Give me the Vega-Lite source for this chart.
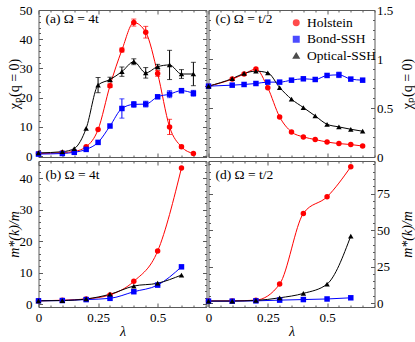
{
  "$schema": "https://vega.github.io/schema/vega-lite/v6.json",
  "padding": {"left": 6.5, "top": 3, "right": 0, "bottom": 4},
  "bounds": "flush",
  "columns": 2,
  "spacing": {"row": 4, "column": 2},
  "config": {
    "font": "Liberation Serif",
    "view": {"stroke": "#5a5a5a", "strokeWidth": 1},
    "axis": {"grid": false, "domain": false, "tickSize": -4, "tickColor": "#5a5a5a", "labelFontSize": 13, "labelColor": "#000", "titleFontSize": 14, "titleFontWeight": "normal", "titleColor": "#000", "labelFlush": false, "labelOverlap": false, "labelPadding": 10.5, "titlePadding": -2},
    "legend": {"labelFontSize": 13.5, "labelColor": "#000", "symbolSize": 30, "rowPadding": 1.5, "padding": 0}
  },
  "data": {"values": [
    {"p":"a","m":"Holstein","x":0,"y":0.9},
    {"p":"a","m":"Holstein","x":0.1,"y":1.2},
    {"p":"a","m":"Holstein","x":0.15,"y":1.6},
    {"p":"a","m":"Holstein","x":0.2,"y":3.2},
    {"p":"a","m":"Holstein","x":0.25,"y":9.1},
    {"p":"a","m":"Holstein","x":0.3,"y":24.1,"lo":23.5,"hi":24.7},
    {"p":"a","m":"Holstein","x":0.35,"y":36.3,"lo":35.6,"hi":37.0},
    {"p":"a","m":"Holstein","x":0.4,"y":45.7,"lo":44.5,"hi":46.9},
    {"p":"a","m":"Holstein","x":0.45,"y":42.4,"lo":40.4,"hi":44.4},
    {"p":"a","m":"Holstein","x":0.5,"y":28.3,"lo":27.3,"hi":29.3},
    {"p":"a","m":"Holstein","x":0.55,"y":10.0,"lo":7.4,"hi":12.6},
    {"p":"a","m":"Holstein","x":0.6,"y":3.2,"lo":2.7,"hi":3.7},
    {"p":"a","m":"Holstein","x":0.65,"y":0.9},
    {"p":"a","m":"Bond-SSH","x":0,"y":0.7},
    {"p":"a","m":"Bond-SSH","x":0.1,"y":0.9},
    {"p":"a","m":"Bond-SSH","x":0.15,"y":1.3},
    {"p":"a","m":"Bond-SSH","x":0.2,"y":2.3},
    {"p":"a","m":"Bond-SSH","x":0.25,"y":4.7},
    {"p":"a","m":"Bond-SSH","x":0.3,"y":10.3},
    {"p":"a","m":"Bond-SSH","x":0.35,"y":16.3,"lo":13.0,"hi":19.6},
    {"p":"a","m":"Bond-SSH","x":0.4,"y":17.7,"lo":16.7,"hi":18.7},
    {"p":"a","m":"Bond-SSH","x":0.45,"y":17.8,"lo":16.8,"hi":18.8},
    {"p":"a","m":"Bond-SSH","x":0.5,"y":20.3,"lo":19.8,"hi":20.8},
    {"p":"a","m":"Bond-SSH","x":0.55,"y":21.2,"lo":20.0,"hi":22.4},
    {"p":"a","m":"Bond-SSH","x":0.6,"y":22.4,"lo":21.7,"hi":23.1},
    {"p":"a","m":"Bond-SSH","x":0.65,"y":21.5,"lo":20.5,"hi":22.5},
    {"p":"a","m":"Optical-SSH","x":0,"y":1.1},
    {"p":"a","m":"Optical-SSH","x":0.1,"y":1.5},
    {"p":"a","m":"Optical-SSH","x":0.15,"y":2.6},
    {"p":"a","m":"Optical-SSH","x":0.2,"y":9.5},
    {"p":"a","m":"Optical-SSH","x":0.25,"y":24.3,"lo":21.7,"hi":26.9},
    {"p":"a","m":"Optical-SSH","x":0.3,"y":26.2,"lo":25.4,"hi":27.0},
    {"p":"a","m":"Optical-SSH","x":0.35,"y":28.9,"lo":27.3,"hi":30.5},
    {"p":"a","m":"Optical-SSH","x":0.4,"y":32.3,"lo":31.3,"hi":33.3},
    {"p":"a","m":"Optical-SSH","x":0.45,"y":28.5,"lo":26.7,"hi":30.3},
    {"p":"a","m":"Optical-SSH","x":0.5,"y":30.6,"lo":29.8,"hi":31.4},
    {"p":"a","m":"Optical-SSH","x":0.55,"y":31.2,"lo":26.2,"hi":36.2},
    {"p":"a","m":"Optical-SSH","x":0.6,"y":28.1,"lo":26.6,"hi":29.6},
    {"p":"a","m":"Optical-SSH","x":0.65,"y":28.1,"lo":24.1,"hi":32.1},
    {"p":"b","m":"Holstein","x":0,"y":1.0},
    {"p":"b","m":"Holstein","x":0.1,"y":1.2},
    {"p":"b","m":"Holstein","x":0.2,"y":1.6},
    {"p":"b","m":"Holstein","x":0.3,"y":2.9},
    {"p":"b","m":"Holstein","x":0.4,"y":7.2},
    {"p":"b","m":"Holstein","x":0.5,"y":16.8},
    {"p":"b","m":"Holstein","x":0.6,"y":43.2},
    {"p":"b","m":"Bond-SSH","x":0,"y":1.0},
    {"p":"b","m":"Bond-SSH","x":0.1,"y":1.1},
    {"p":"b","m":"Bond-SSH","x":0.2,"y":1.4},
    {"p":"b","m":"Bond-SSH","x":0.3,"y":1.8},
    {"p":"b","m":"Bond-SSH","x":0.4,"y":3.9},
    {"p":"b","m":"Bond-SSH","x":0.5,"y":6.0},
    {"p":"b","m":"Bond-SSH","x":0.6,"y":11.8},
    {"p":"b","m":"Optical-SSH","x":0,"y":1.0},
    {"p":"b","m":"Optical-SSH","x":0.1,"y":1.1},
    {"p":"b","m":"Optical-SSH","x":0.2,"y":1.6},
    {"p":"b","m":"Optical-SSH","x":0.3,"y":3.1},
    {"p":"b","m":"Optical-SSH","x":0.4,"y":5.7},
    {"p":"b","m":"Optical-SSH","x":0.5,"y":6.6},
    {"p":"b","m":"Optical-SSH","x":0.6,"y":9.2},
    {"p":"c","m":"Holstein","x":0,"y":0.723},
    {"p":"c","m":"Holstein","x":0.1,"y":0.795},
    {"p":"c","m":"Holstein","x":0.15,"y":0.846},
    {"p":"c","m":"Holstein","x":0.2,"y":0.897},
    {"p":"c","m":"Holstein","x":0.25,"y":0.706},
    {"p":"c","m":"Holstein","x":0.3,"y":0.409},
    {"p":"c","m":"Holstein","x":0.35,"y":0.256},
    {"p":"c","m":"Holstein","x":0.4,"y":0.205},
    {"p":"c","m":"Holstein","x":0.45,"y":0.178},
    {"p":"c","m":"Holstein","x":0.5,"y":0.153},
    {"p":"c","m":"Holstein","x":0.55,"y":0.137},
    {"p":"c","m":"Holstein","x":0.6,"y":0.127},
    {"p":"c","m":"Holstein","x":0.65,"y":0.112},
    {"p":"c","m":"Bond-SSH","x":0,"y":0.723},
    {"p":"c","m":"Bond-SSH","x":0.1,"y":0.733},
    {"p":"c","m":"Bond-SSH","x":0.15,"y":0.74},
    {"p":"c","m":"Bond-SSH","x":0.2,"y":0.75},
    {"p":"c","m":"Bond-SSH","x":0.25,"y":0.764},
    {"p":"c","m":"Bond-SSH","x":0.3,"y":0.764},
    {"p":"c","m":"Bond-SSH","x":0.35,"y":0.784},
    {"p":"c","m":"Bond-SSH","x":0.4,"y":0.798},
    {"p":"c","m":"Bond-SSH","x":0.45,"y":0.791},
    {"p":"c","m":"Bond-SSH","x":0.5,"y":0.832},
    {"p":"c","m":"Bond-SSH","x":0.55,"y":0.838,"lo":0.81,"hi":0.866},
    {"p":"c","m":"Bond-SSH","x":0.6,"y":0.795},
    {"p":"c","m":"Bond-SSH","x":0.65,"y":0.784},
    {"p":"c","m":"Optical-SSH","x":0,"y":0.723},
    {"p":"c","m":"Optical-SSH","x":0.1,"y":0.80},
    {"p":"c","m":"Optical-SSH","x":0.15,"y":0.853},
    {"p":"c","m":"Optical-SSH","x":0.2,"y":0.876},
    {"p":"c","m":"Optical-SSH","x":0.25,"y":0.859},
    {"p":"c","m":"Optical-SSH","x":0.3,"y":0.709},
    {"p":"c","m":"Optical-SSH","x":0.35,"y":0.59},
    {"p":"c","m":"Optical-SSH","x":0.4,"y":0.505},
    {"p":"c","m":"Optical-SSH","x":0.45,"y":0.419},
    {"p":"c","m":"Optical-SSH","x":0.5,"y":0.334},
    {"p":"c","m":"Optical-SSH","x":0.55,"y":0.307},
    {"p":"c","m":"Optical-SSH","x":0.6,"y":0.283},
    {"p":"c","m":"Optical-SSH","x":0.65,"y":0.263},
    {"p":"d","m":"Holstein","x":0,"y":1.4},
    {"p":"d","m":"Holstein","x":0.1,"y":1.5},
    {"p":"d","m":"Holstein","x":0.2,"y":2.0},
    {"p":"d","m":"Holstein","x":0.3,"y":13.0},
    {"p":"d","m":"Holstein","x":0.4,"y":61.4},
    {"p":"d","m":"Holstein","x":0.5,"y":72.8},
    {"p":"d","m":"Holstein","x":0.6,"y":93.3},
    {"p":"d","m":"Bond-SSH","x":0,"y":1.3},
    {"p":"d","m":"Bond-SSH","x":0.1,"y":1.3},
    {"p":"d","m":"Bond-SSH","x":0.2,"y":1.5},
    {"p":"d","m":"Bond-SSH","x":0.3,"y":2.0},
    {"p":"d","m":"Bond-SSH","x":0.4,"y":2.4},
    {"p":"d","m":"Bond-SSH","x":0.5,"y":2.8},
    {"p":"d","m":"Bond-SSH","x":0.6,"y":3.6},
    {"p":"d","m":"Optical-SSH","x":0,"y":1.4},
    {"p":"d","m":"Optical-SSH","x":0.1,"y":1.4},
    {"p":"d","m":"Optical-SSH","x":0.2,"y":1.8},
    {"p":"d","m":"Optical-SSH","x":0.3,"y":3.6},
    {"p":"d","m":"Optical-SSH","x":0.4,"y":6.6},
    {"p":"d","m":"Optical-SSH","x":0.5,"y":13.0},
    {"p":"d","m":"Optical-SSH","x":0.6,"y":45.9}
  ]},
  "resolve": {"legend": {"color": "independent", "shape": "independent"}},
  "concat": [
    {
      "width": 168, "height": 147,
      "title": {"text": "(a) Ω = 4t", "anchor": "start", "frame": "group", "offset": -21, "dx": 7, "fontSize": 13.5, "fontWeight": "normal", "color": "#000"},
      "transform": [{"filter": "datum.p == 'a'"}],
      "resolve": {"axis": {"x": "independent", "y": "independent"}},
      "encoding": {
        "color": {"field": "m", "type": "nominal", "scale": {"domain": ["Holstein", "Bond-SSH", "Optical-SSH"], "range": ["#ff0000", "#0000ff", "#000000"]}, "legend": null}
      },
      "layer": [
        {"mark": {"type": "line", "interpolate": "monotone", "strokeWidth": 1, "clip": true},
         "encoding": {
           "x": {"field": "x", "type": "quantitative", "scale": {"domain": [0, 0.705], "nice": false, "zero": false}, "axis": {"values": [0, 0.25, 0.5], "labels": false, "title": null}},
           "y": {"field": "y", "type": "quantitative", "scale": {"domain": [-0.3, 50], "nice": false, "zero": false}, "axis": {"values": [0, 10, 20, 30, 40, 50], "format": "d", "title": "χₚ(q = 0)"}}}},
        {"transform": [{"filter": "isValid(datum.lo)"}], "mark": {"type": "errorbar", "ticks": true, "thickness": 1},
         "encoding": {
           "x": {"field": "x", "type": "quantitative", "scale": {"domain": [0, 0.705], "nice": false, "zero": false}, "axis": null},
           "y": {"field": "lo", "type": "quantitative", "scale": {"domain": [-0.3, 50], "nice": false, "zero": false}, "axis": null},
           "y2": {"field": "hi"}}},
        {"mark": {"type": "point", "filled": true, "size": 30, "opacity": 1},
         "encoding": {
           "x": {"field": "x", "type": "quantitative", "scale": {"domain": [0, 0.705], "nice": false, "zero": false}, "axis": {"orient": "top", "values": [0, 0.05, 0.1, 0.15, 0.2, 0.25, 0.3, 0.35, 0.4, 0.45, 0.5, 0.55, 0.6, 0.65, 0.7], "tickSize": {"condition": {"test": "abs(datum.value*4 - round(datum.value*4)) < 0.001", "value": -4}, "value": -2}, "labels": false, "title": null}},
           "y": {"field": "y", "type": "quantitative", "scale": {"domain": [-0.3, 50], "nice": false, "zero": false}, "axis": {"orient": "right", "values": [0, 2, 4, 6, 8, 10, 12, 14, 16, 18, 20, 22, 24, 26, 28, 30, 32, 34, 36, 38, 40, 42, 44, 46, 48, 50], "tickSize": {"condition": {"test": "datum.value % 10 == 0", "value": -4}, "value": -2}, "labels": false, "title": null}},
           "shape": {"field": "m", "type": "nominal", "scale": {"domain": ["Holstein", "Bond-SSH", "Optical-SSH"], "range": ["circle", "square", "triangle-up"]}, "legend": null}}},
        {"mark": {"type": "point", "opacity": 0},
         "encoding": {
           "x": {"field": "x", "type": "quantitative", "scale": {"domain": [0, 0.705], "nice": false, "zero": false}, "axis": {"orient": "bottom", "values": [0.05, 0.1, 0.15, 0.2, 0.3, 0.35, 0.4, 0.45, 0.55, 0.6, 0.65, 0.7], "tickSize": -2, "labels": false, "title": null}},
           "y": {"field": "y", "type": "quantitative", "scale": {"domain": [-0.3, 50], "nice": false, "zero": false}, "axis": {"orient": "left", "values": [2, 4, 6, 8, 12, 14, 16, 18, 22, 24, 26, 28, 32, 34, 36, 38, 42, 44, 46, 48], "tickSize": -2, "labels": false, "title": null}}}}
      ]
    },
    {
      "width": 166, "height": 147,
      "title": {"text": "(c) Ω = t/2", "anchor": "start", "frame": "group", "offset": -21, "dx": 7, "fontSize": 13.5, "fontWeight": "normal", "color": "#000"},
      "transform": [{"filter": "datum.p == 'c'"}],
      "resolve": {"axis": {"x": "independent", "y": "independent"}},
      "encoding": {
        "color": {"field": "m", "type": "nominal", "title": null, "scale": {"domain": ["Holstein", "Bond-SSH", "Optical-SSH"], "range": ["#ff0000", "#0000ff", "#000000"]}, "legend": {"orient": "none", "legendX": 81, "legendY": 6, "title": null}}
      },
      "layer": [
        {"mark": {"type": "line", "interpolate": "monotone", "strokeWidth": 1, "clip": true},
         "encoding": {
           "x": {"field": "x", "type": "quantitative", "scale": {"domain": [0, 0.7], "nice": false, "zero": false}, "axis": {"values": [0, 0.25, 0.5], "labels": false, "title": null}},
           "y": {"field": "y", "type": "quantitative", "scale": {"domain": [0, 1.5], "nice": false, "zero": false}, "axis": {"orient": "right", "values": [0, 0.5, 1, 1.5], "format": ".1~f", "title": "χₚ(q = 0)", "titleAngle": -90, "titleBaseline": "top", "labelPadding": 6, "titlePadding": 8}}}},
        {"transform": [{"filter": "isValid(datum.lo)"}], "mark": {"type": "errorbar", "ticks": true, "thickness": 1},
         "encoding": {
           "x": {"field": "x", "type": "quantitative", "scale": {"domain": [0, 0.7], "nice": false, "zero": false}, "axis": null},
           "y": {"field": "lo", "type": "quantitative", "scale": {"domain": [0, 1.5], "nice": false, "zero": false}, "axis": null},
           "y2": {"field": "hi"}}},
        {"mark": {"type": "point", "filled": true, "size": 30, "opacity": 1},
         "encoding": {
           "x": {"field": "x", "type": "quantitative", "scale": {"domain": [0, 0.7], "nice": false, "zero": false}, "axis": {"orient": "top", "values": [0, 0.05, 0.1, 0.15, 0.2, 0.25, 0.3, 0.35, 0.4, 0.45, 0.5, 0.55, 0.6, 0.65, 0.7], "tickSize": {"condition": {"test": "abs(datum.value*4 - round(datum.value*4)) < 0.001", "value": -4}, "value": -2}, "labels": false, "title": null}},
           "y": {"field": "y", "type": "quantitative", "scale": {"domain": [0, 1.5], "nice": false, "zero": false}, "axis": {"orient": "left", "values": [0, 0.1, 0.2, 0.3, 0.4, 0.5, 0.6, 0.7, 0.8, 0.9, 1, 1.1, 1.2, 1.3, 1.4, 1.5], "tickSize": {"condition": {"test": "abs(datum.value*2 - round(datum.value*2)) < 0.001", "value": -4}, "value": -2}, "labels": false, "title": null}},
           "shape": {"field": "m", "type": "nominal", "title": null, "scale": {"domain": ["Holstein", "Bond-SSH", "Optical-SSH"], "range": ["circle", "square", "triangle-up"]}, "legend": {"orient": "none", "legendX": 81, "legendY": 6, "title": null}}}},
        {"mark": {"type": "point", "opacity": 0},
         "encoding": {
           "x": {"field": "x", "type": "quantitative", "scale": {"domain": [0, 0.7], "nice": false, "zero": false}, "axis": {"orient": "bottom", "values": [0.05, 0.1, 0.15, 0.2, 0.3, 0.35, 0.4, 0.45, 0.55, 0.6, 0.65, 0.7], "tickSize": -2, "labels": false, "title": null}},
           "y": {"field": "y", "type": "quantitative", "scale": {"domain": [0, 1.5], "nice": false, "zero": false}, "axis": {"orient": "right", "values": [0.1, 0.2, 0.3, 0.4, 0.6, 0.7, 0.8, 0.9, 1.1, 1.2, 1.3, 1.4], "tickSize": -2, "labels": false, "title": null}}}}
      ]
    },
    {
      "width": 168, "height": 146,
      "title": {"text": "(b) Ω = 4t", "anchor": "start", "frame": "group", "offset": -20.5, "dx": 7, "fontSize": 13.5, "fontWeight": "normal", "color": "#000"},
      "transform": [{"filter": "datum.p == 'b'"}],
      "resolve": {"axis": {"x": "independent", "y": "independent"}},
      "encoding": {
        "color": {"field": "m", "type": "nominal", "scale": {"domain": ["Holstein", "Bond-SSH", "Optical-SSH"], "range": ["#ff0000", "#0000ff", "#000000"]}, "legend": null}
      },
      "layer": [
        {"mark": {"type": "line", "interpolate": "monotone", "strokeWidth": 1, "clip": true},
         "encoding": {
           "x": {"field": "x", "type": "quantitative", "scale": {"domain": [0, 0.705], "nice": false, "zero": false}, "axis": {"values": [0, 0.25, 0.5], "format": ".2~f", "title": "λ", "titleFontStyle": "italic", "labelPadding": 8, "titlePadding": 0}},
           "y": {"field": "y", "type": "quantitative", "scale": {"domain": [-0.95, 45.4], "nice": false, "zero": false}, "axis": {"values": [0, 10, 20, 30, 40], "format": "d", "title": "m*(k)/m", "titleFontStyle": "italic"}}}},
        {"mark": {"type": "point", "filled": true, "size": 30, "opacity": 1},
         "encoding": {
           "x": {"field": "x", "type": "quantitative", "scale": {"domain": [0, 0.705], "nice": false, "zero": false}, "axis": {"orient": "top", "values": [0, 0.05, 0.1, 0.15, 0.2, 0.25, 0.3, 0.35, 0.4, 0.45, 0.5, 0.55, 0.6, 0.65, 0.7], "tickSize": {"condition": {"test": "abs(datum.value*4 - round(datum.value*4)) < 0.001", "value": -4}, "value": -2}, "labels": false, "title": null}},
           "y": {"field": "y", "type": "quantitative", "scale": {"domain": [-0.95, 45.4], "nice": false, "zero": false}, "axis": {"orient": "right", "values": [0, 2, 4, 6, 8, 10, 12, 14, 16, 18, 20, 22, 24, 26, 28, 30, 32, 34, 36, 38, 40, 42, 44], "tickSize": {"condition": {"test": "datum.value % 10 == 0", "value": -4}, "value": -2}, "labels": false, "title": null}},
           "shape": {"field": "m", "type": "nominal", "scale": {"domain": ["Holstein", "Bond-SSH", "Optical-SSH"], "range": ["circle", "square", "triangle-up"]}, "legend": null}}},
        {"mark": {"type": "point", "opacity": 0},
         "encoding": {
           "x": {"field": "x", "type": "quantitative", "scale": {"domain": [0, 0.705], "nice": false, "zero": false}, "axis": {"orient": "bottom", "values": [0.05, 0.1, 0.15, 0.2, 0.3, 0.35, 0.4, 0.45, 0.55, 0.6, 0.65, 0.7], "tickSize": -2, "labels": false, "title": null}},
           "y": {"field": "y", "type": "quantitative", "scale": {"domain": [-0.95, 45.4], "nice": false, "zero": false}, "axis": {"orient": "left", "values": [2, 4, 6, 8, 12, 14, 16, 18, 22, 24, 26, 28, 32, 34, 36, 38, 42, 44], "tickSize": -2, "labels": false, "title": null}}}}
      ]
    },
    {
      "width": 166, "height": 146,
      "title": {"text": "(d) Ω = t/2", "anchor": "start", "frame": "group", "offset": -20.5, "dx": 7, "fontSize": 13.5, "fontWeight": "normal", "color": "#000"},
      "transform": [{"filter": "datum.p == 'd'"}],
      "resolve": {"axis": {"x": "independent", "y": "independent"}},
      "encoding": {
        "color": {"field": "m", "type": "nominal", "scale": {"domain": ["Holstein", "Bond-SSH", "Optical-SSH"], "range": ["#ff0000", "#0000ff", "#000000"]}, "legend": null}
      },
      "layer": [
        {"mark": {"type": "line", "interpolate": "monotone", "strokeWidth": 1, "clip": true},
         "encoding": {
           "x": {"field": "x", "type": "quantitative", "scale": {"domain": [0, 0.7], "nice": false, "zero": false}, "axis": {"values": [0, 0.25, 0.5], "format": ".2~f", "title": "λ", "titleFontStyle": "italic", "labelPadding": 8, "titlePadding": 0}},
           "y": {"field": "y", "type": "quantitative", "scale": {"domain": [-2.7, 97.3], "nice": false, "zero": false}, "axis": {"orient": "right", "values": [0, 25, 50, 75], "format": "d", "title": "m*(k)/m", "titleFontStyle": "italic", "titleAngle": -90, "titleBaseline": "top", "labelPadding": 6, "titlePadding": 11}}}},
        {"mark": {"type": "point", "filled": true, "size": 30, "opacity": 1},
         "encoding": {
           "x": {"field": "x", "type": "quantitative", "scale": {"domain": [0, 0.7], "nice": false, "zero": false}, "axis": {"orient": "top", "values": [0, 0.05, 0.1, 0.15, 0.2, 0.25, 0.3, 0.35, 0.4, 0.45, 0.5, 0.55, 0.6, 0.65, 0.7], "tickSize": {"condition": {"test": "abs(datum.value*4 - round(datum.value*4)) < 0.001", "value": -4}, "value": -2}, "labels": false, "title": null}},
           "y": {"field": "y", "type": "quantitative", "scale": {"domain": [-2.7, 97.3], "nice": false, "zero": false}, "axis": {"orient": "left", "values": [0, 5, 10, 15, 20, 25, 30, 35, 40, 45, 50, 55, 60, 65, 70, 75, 80, 85, 90, 95], "tickSize": {"condition": {"test": "datum.value % 25 == 0", "value": -4}, "value": -2}, "labels": false, "title": null}},
           "shape": {"field": "m", "type": "nominal", "scale": {"domain": ["Holstein", "Bond-SSH", "Optical-SSH"], "range": ["circle", "square", "triangle-up"]}, "legend": null}}},
        {"mark": {"type": "point", "opacity": 0},
         "encoding": {
           "x": {"field": "x", "type": "quantitative", "scale": {"domain": [0, 0.7], "nice": false, "zero": false}, "axis": {"orient": "bottom", "values": [0.05, 0.1, 0.15, 0.2, 0.3, 0.35, 0.4, 0.45, 0.55, 0.6, 0.65, 0.7], "tickSize": -2, "labels": false, "title": null}},
           "y": {"field": "y", "type": "quantitative", "scale": {"domain": [-2.7, 97.3], "nice": false, "zero": false}, "axis": {"orient": "right", "values": [5, 10, 15, 20, 30, 35, 40, 45, 55, 60, 65, 70, 80, 85, 90, 95], "tickSize": -2, "labels": false, "title": null}}}}
      ]
    }
  ]
}
